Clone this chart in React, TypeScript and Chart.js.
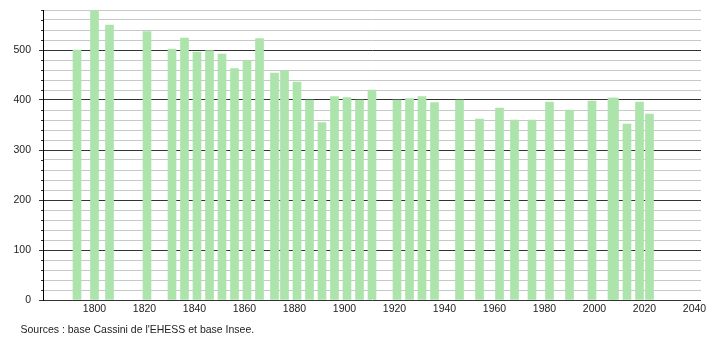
import React, { useEffect, useRef } from "react";
import { Chart, registerables } from "chart.js";

Chart.register(...registerables);

const years = [1793, 1800, 1806, 1821, 1831, 1836, 1841, 1846, 1851, 1856, 1861, 1866, 1872, 1876, 1881, 1886, 1891, 1896, 1901, 1906, 1911, 1921, 1926, 1931, 1936, 1946, 1954, 1962, 1968, 1975, 1982, 1990, 1999, 2007, 2008, 2013, 2018, 2022];
const population = [500, 580, 550, 537, 502, 524, 496, 499, 492, 463, 479, 523, 454, 459, 436, 400, 355, 407, 405, 400, 420, 400, 403, 407, 395, 400, 362, 384, 360, 360, 396, 380, 398, 404, 404, 352, 396, 372];
const xTickLabels = [1800, 1820, 1840, 1860, 1880, 1900, 1920, 1940, 1960, 1980, 2000, 2020, 2040];
const yTickLabels = [0, 100, 200, 300, 400, 500];
const sourceText = "Sources : base Cassini de l'EHESS et base Insee.";

const FONT = "'Liberation Sans', Arial, sans-serif";

export default function App() {
  const ref = useRef<HTMLCanvasElement | null>(null);

  useEffect(() => {
    if (!ref.current) return;
    const extras = {
      id: "extras",
      afterDraw(chart: any) {
        const ctx = chart.ctx;
        const y = chart.scales.y;
        const left = chart.chartArea.left;
        ctx.save();
        ctx.strokeStyle = "#333";
        ctx.lineWidth = 1;
        for (let v = 0; v <= 580; v += 20) {
          if (yTickLabels.includes(v)) continue;
          const py = Math.round(y.getPixelForValue(v)) + 0.5;
          ctx.beginPath();
          ctx.moveTo(left - 2, py);
          ctx.lineTo(left, py);
          ctx.stroke();
        }
        ctx.fillStyle = "#222";
        ctx.font = "10.5px " + FONT;
        ctx.textAlign = "left";
        ctx.textBaseline = "alphabetic";
        ctx.fillText(sourceText, 20.5, 333);
        ctx.restore();
      },
    };
    const chart = new Chart(ref.current, {
      type: "bar",
      data: {
        datasets: [
          {
            data: years.map((yr, i) => ({ x: yr, y: population[i] })),
            backgroundColor: "rgb(172,228,172)",
            borderWidth: 0,
            barThickness: 8,
          },
        ],
      },
      options: {
        animation: false,
        responsive: false,
        devicePixelRatio: 1,
        layout: { padding: { top: 10, right: 9, left: 0, bottom: 0 } },
        plugins: { legend: { display: false }, tooltip: { enabled: false }, title: { display: false } },
        scales: {
          x: {
            type: "linear",
            min: 1779.4,
            max: 2042.6,
            offset: false,
            grid: { display: false, drawTicks: false },
            border: { display: false },
            afterBuildTicks: (scale: any) => {
              scale.ticks = xTickLabels.map((v) => ({ value: v }));
            },
            afterFit: (scale: any) => {
              scale.height = 40;
              scale.paddingLeft = 0;
              scale.paddingRight = 0;
            },
            ticks: {
              autoSkip: false,
              maxRotation: 0,
              padding: 3,
              color: "#222",
              font: { family: FONT, size: 10.5 },
              callback: (v: any) => String(v),
            },
          },
          y: {
            min: 0,
            max: 580,
            afterFit: (scale: any) => {
              scale.width = 43;
              scale.paddingTop = 0;
              scale.paddingBottom = 0;
            },
            grid: {
              color: (c: any) => (c.tick && yTickLabels.includes(c.tick.value) ? "#333" : "#c8c8c8"),
              tickColor: (c: any) => (c.tick && yTickLabels.includes(c.tick.value) ? "#333" : "rgba(0,0,0,0)"),
              tickLength: 4,
              lineWidth: 1,
            },
            border: { display: true, color: "#000", width: 1 },
            ticks: {
              stepSize: 20,
              autoSkip: false,
              padding: 8,
              color: "#222",
              font: { family: FONT, size: 10.5 },
              callback: (v: any) => (yTickLabels.includes(Number(v)) ? String(v) : ""),
            },
          },
        },
      },
      plugins: [extras],
    });
    return () => chart.destroy();
  }, []);

  return (
    <div style={{ position: "absolute", left: 0, top: 0, width: 710, height: 340, background: "#fff" }}>
      <canvas ref={ref} width={710} height={340} style={{ width: 710, height: 340 }} />
    </div>
  );
}
